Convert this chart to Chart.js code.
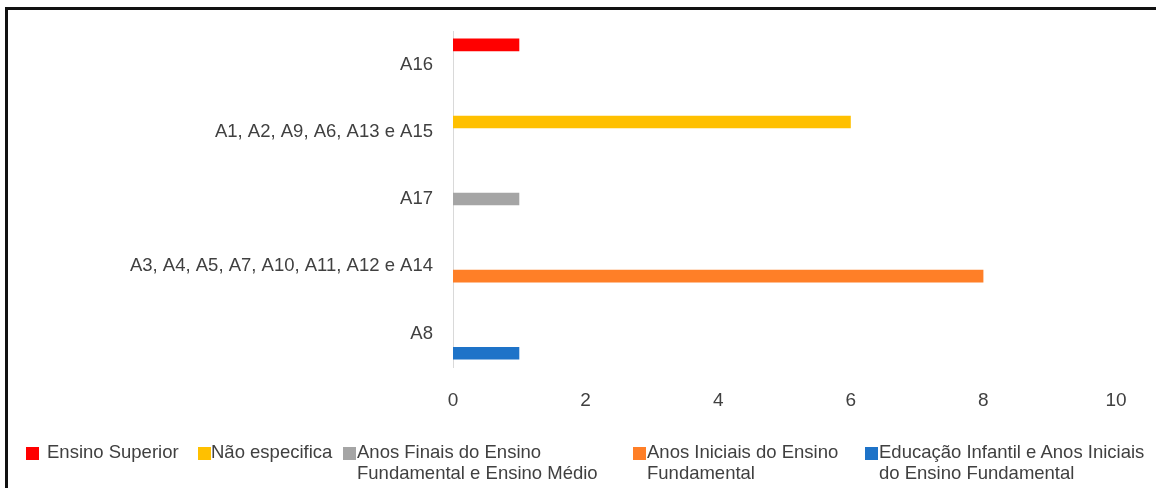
<!DOCTYPE html>
<html>
<head>
<meta charset="utf-8">
<script src="https://cdn.jsdelivr.net/npm/chart.js@4.4.1/dist/chart.umd.min.js"></script>
<style>
  html, body { margin: 0; padding: 0; background: #fff; }
  body { width: 1156px; height: 488px; position: relative; overflow: hidden; font-family: "Liberation Sans", Arial, sans-serif; }
  #frame { position: absolute; left: 5px; top: 7px; width: 1170px; height: 500px; border-top: 3px solid #111; border-left: 3px solid #111; }
  #wrap { position: absolute; left: 0; top: 0; width: 1156px; height: 488px; }
  #legend { position: absolute; left: 0; top: 441px; width: 1156px; height: 47px; }
  .item { position: absolute; top: 0; }
  .box { position: absolute; top: 6px; width: 13px; height: 13px; }
  .txt { position: absolute; top: 0; white-space: nowrap; font-size: 18.5px; line-height: 21px; color: #404040; }
</style>
</head>
<body>
<div id="frame"></div>
<div id="wrap"><canvas id="chart"></canvas></div>
<div id="legend"></div>
<script>
// categories, top to bottom
const categories = ['A16', 'A1, A2, A9, A6, A13 e A15', 'A17', 'A3, A4, A5, A7, A10, A11, A12 e A14', 'A8'];

// one series per level of teaching
const seriesNames = [
  'Ensino Superior',
  'Não especifica',
  ['Anos Finais do Ensino', 'Fundamental e Ensino Médio'],
  ['Anos Iniciais do Ensino', 'Fundamental'],
  ['Educação Infantil e Anos Iniciais', 'do Ensino Fundamental']
];
const ensinoSuperior  = [1, null, null, null, null];
const naoEspecifica   = [null, 6, null, null, null];
const anosFinais      = [null, null, 1, null, null];
const anosIniciais    = [null, null, null, 8, null];
const infantilIniciais = [null, null, null, null, 1];

const xTicks = [0, 2, 4, 6, 8, 10];

const colors = ['#ff0000', '#ffc000', '#a5a5a5', '#ff7f27', '#1e73c8'];
// legend layout (box left, text left)
const legendPos = [[26, 47], [198, 211], [343, 357], [633, 647], [865, 879]];

const seriesValues = [ensinoSuperior, naoEspecifica, anosFinais, anosIniciais, infantilIniciais];

const ctx = document.getElementById('chart').getContext('2d');
const chart = new Chart(ctx, {
  type: 'bar',
  data: {
    labels: categories,
    datasets: seriesValues.map((vals, i) => ({
      label: Array.isArray(seriesNames[i]) ? seriesNames[i].join(' ') : seriesNames[i],
      data: vals,
      backgroundColor: colors[i],
      borderWidth: 0,
      categoryPercentage: 0.7375,
      barPercentage: 1.27
    }))
  },
  options: {
    indexAxis: 'y',
    responsive: true,
    maintainAspectRatio: false,
    animation: false,
    layout: { padding: { top: 28, right: 40, left: 0, bottom: 0 } },
    plugins: {
      legend: { display: false },
      tooltip: { enabled: false }
    },
    scales: {
      x: {
        min: 0,
        max: 10,
        afterBuildTicks: (scale) => { scale.ticks = xTicks.map(v => ({ value: v })); },
        afterFit: (scale) => { scale.height = 121; },
        grid: { display: false, drawTicks: false },
        border: { display: false },
        ticks: {
          padding: 22,
          color: '#404040',
          font: { family: '"Liberation Sans Narrow", "Liberation Sans", Arial', size: 19 }
        }
      },
      y: {
        afterFit: (scale) => { scale.width = 453; },
        grid: { display: false, drawTicks: false },
        border: { display: true, color: '#d9d9d9', width: 1 },
        ticks: {
          padding: 20,
          color: '#404040',
          font: { family: '"Liberation Sans", Arial', size: 18.5 }
        }
      }
    }
  }
});

// legend built from the series names and colours
const legend = document.getElementById('legend');
seriesNames.forEach((name, i) => {
  const box = document.createElement('div');
  box.className = 'box';
  box.style.left = legendPos[i][0] + 'px';
  box.style.background = colors[i];
  legend.appendChild(box);
  const txt = document.createElement('div');
  txt.className = 'txt';
  txt.style.left = legendPos[i][1] + 'px';
  txt.innerHTML = (Array.isArray(name) ? name : [name]).join('<br>');
  legend.appendChild(txt);
});
</script>
</body>
</html>
